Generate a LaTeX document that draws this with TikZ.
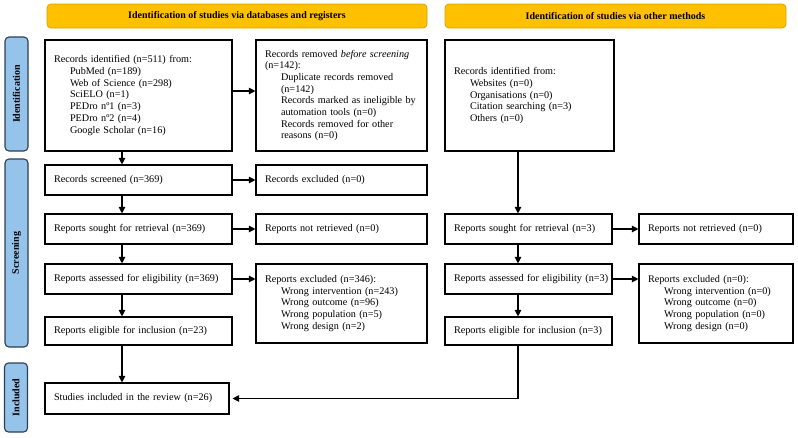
\documentclass[tikz,border=0pt]{standalone}
\usepackage{fontspec}
\setmainfont{Liberation Serif}
\usetikzlibrary{arrows.meta}
\definecolor{hdrfill}{HTML}{FFC000}
\definecolor{hdrdraw}{HTML}{D9A200}
\definecolor{sidefill}{HTML}{95C3EA}
\definecolor{sidedraw}{HTML}{2B3F55}
\tikzset{
  box/.style={draw=black, line width=1.1pt, fill=white, align=left, inner xsep=9pt, inner ysep=0pt,
    font=\fontsize{10.2}{11.7}\selectfont},
  hdr/.style={draw=hdrdraw, fill=hdrfill, line width=0.8pt, rounded corners=4pt, minimum height=24pt,
    font=\bfseries\fontsize{10}{12}\selectfont},
  side/.style={draw=sidedraw, fill=sidefill, line width=1.1pt, rounded corners=4pt, rotate=90, minimum height=23pt,
    inner sep=0pt, font=\bfseries\fontsize{10}{12}\selectfont},
  arr/.style={line width=1.1pt, -{Triangle[length=6.5pt,width=6.5pt]}},
  ln/.style={line width=1.1pt}
}
\newcommand{\ind}{\hspace*{16pt}}
\begin{document}
\begin{tikzpicture}[x=1pt,y=-1pt]
\useasboundingbox (0,0) rectangle (798,437);
% headers
\node[hdr, minimum width=380pt] (h1) at (237,16) {Identification of studies via databases and registers};
\node[hdr, minimum width=341pt] (h2) at (615.5,16) {Identification of studies via other methods};
% side bars
\node[side, minimum width=114pt] (s1) at (16.5,94) {Identification};
\node[side, minimum width=188pt] (s2) at (16.5,253) {Screening};
\node[side, minimum width=69pt] (s3) at (16,397.5) {Included};
% left column
\node[box, minimum width=187pt, minimum height=111pt, text width=169pt] (rid) at (138.5,95.5)
 {Records identified (n=511) from:\\ \ind PubMed (n=189)\\ \ind Web of Science (n=298)\\ \ind SciELO (n=1)\\ \ind PEDro nº1 (n=3)\\ \ind PEDro nº2 (n=4)\\ \ind Google Scholar (n=16)};
\node[box, minimum width=171pt, minimum height=111pt, text width=153pt] (rem) at (341.5,95.5)
 {Records removed \textit{before screening}\\ (n=142):\\ \ind Duplicate records removed\\ \ind (n=142)\\ \ind Records marked as ineligible by\\ \ind automation tools (n=0)\\ \ind Records removed for other\\ \ind reasons (n=0)};
\node[box, minimum width=187pt, minimum height=30pt, text width=169pt] (scr) at (138.5,180) {Records screened (n=369)};
\node[box, minimum width=171pt, minimum height=30pt, text width=153pt] (exc) at (341.5,180) {Records excluded (n=0)};
\node[box, minimum width=187pt, minimum height=30pt, text width=169pt] (sou) at (138.5,229) {Reports sought for retrieval (n=369)};
\node[box, minimum width=171pt, minimum height=30pt, text width=153pt] (nr) at (341.5,229) {Reports not retrieved (n=0)};
\node[box, minimum width=187pt, minimum height=30pt, text width=169pt] (ass) at (138.5,279) {Reports assessed for eligibility (n=369)};
\node[box, minimum width=171pt, minimum height=79pt, text width=153pt] (rex) at (341.5,303.5)
 {Reports excluded (n=346):\\ \ind Wrong intervention (n=243)\\ \ind Wrong outcome (n=96)\\ \ind Wrong population (n=5)\\ \ind Wrong design (n=2)};
\node[box, minimum width=187pt, minimum height=28pt, text width=169pt] (eli) at (138.5,331) {Reports eligible for inclusion (n=23)};
\node[box, minimum width=184pt, minimum height=31pt, text width=166pt] (inc) at (137,398.5) {Studies included in the review (n=26)};
% right column
\node[box, minimum width=169pt, minimum height=111pt, text width=151pt] (oid) at (529.5,95.5)
 {Records identified from:\\ \ind Websites (n=0)\\ \ind Organisations (n=0)\\ \ind Citation searching (n=3)\\ \ind Others (n=0)};
\node[box, minimum width=167pt, minimum height=30pt, text width=149pt] (sou2) at (528.5,229) {Reports sought for retrieval (n=3)};
\node[box, minimum width=154pt, minimum height=30pt, text width=136pt] (nr2) at (716,229) {Reports not retrieved (n=0)};
\node[box, minimum width=167pt, minimum height=30pt, text width=149pt] (ass2) at (528.5,279) {\mbox{Reports assessed for eligibility (n=3)}};
\node[box, minimum width=154pt, minimum height=79pt, text width=136pt] (rex2) at (716,303.5)
 {Reports excluded (n=0):\\ \ind Wrong intervention (n=0)\\ \ind Wrong outcome (n=0)\\ \ind Wrong population (n=0)\\ \ind Wrong design (n=0)};
\node[box, minimum width=167pt, minimum height=28pt, text width=149pt] (eli2) at (528.5,331) {Reports eligible for inclusion (n=3)};
% guide coordinates
\coordinate (xl) at (122,0);
\coordinate (xr) at (518,0);
% left connectors
\draw[arr] (rid.south -| xl) -- (scr.north -| xl);
\draw[arr] (scr.south -| xl) -- (sou.north -| xl);
\draw[arr] (sou.south -| xl) -- (ass.north -| xl);
\draw[arr] (ass.south -| xl) -- (eli.north -| xl);
\draw[arr] (eli.south -| xl) -- (inc.north -| xl);
\draw[arr] ([yshift=4.5pt]rid.east) -- ([yshift=4.5pt]rem.west);
\draw[arr] (scr.east) -- (exc.west);
\draw[arr] (sou.east) -- (nr.west);
\draw[arr] (ass.east) -- (ass.east -| rex.west);
% right connectors
\draw[arr] (oid.south -| xr) -- (sou2.north -| xr);
\draw[arr] (sou2.south -| xr) -- (ass2.north -| xr);
\draw[arr] (ass2.south -| xr) -- (eli2.north -| xr);
\draw[arr] (sou2.east) -- (nr2.west);
\draw[arr] (ass2.east) -- (ass2.east -| rex2.west);
\draw[arr] (eli2.south -| xr) |- ([xshift=3pt]inc.east);
\end{tikzpicture}
\end{document}
